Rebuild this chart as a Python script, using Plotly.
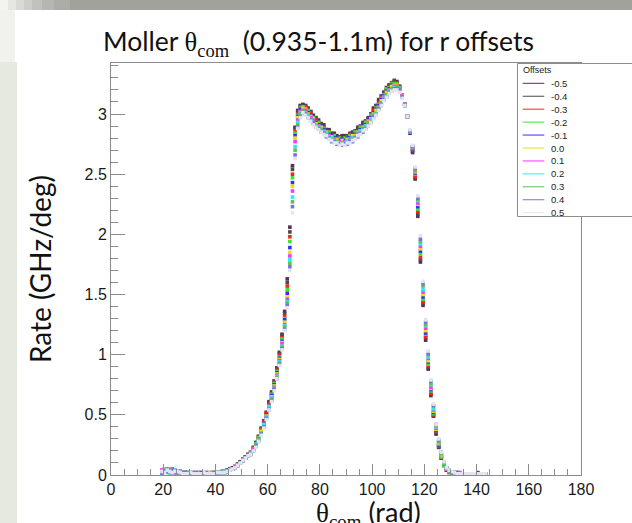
import numpy as np
import plotly.graph_objects as go

# ---------------- data ----------------
offsets = ["-0.5", "-0.4", "-0.3", "-0.2", "-0.1", "0.0", "0.1", "0.2", "0.3", "0.4", "0.5"]
colors = ["#5a2d5a", "#4a4a4a", "#ff2020", "#33e833", "#3333ff", "#f0e000",
          "#ff33ff", "#22eeee", "#59c454", "#7474e0", "#e4e4f0"]
first_bin_center = 19.5  # theta_com (1-degree bins)

rate_m05 = [0.03, 0.04, 0.05, 0.02, 0.03, 0.02, 0.02, 0.03, 0.01, 0.02,
            0.01, 0.02, 0.01, 0.01, 0.02, 0.01, 0.01, 0.01, 0.01, 0.02,
            0.01, 0.02, 0.02, 0.03, 0.03, 0.04, 0.04, 0.06, 0.07, 0.09,
            0.11, 0.13, 0.15, 0.17, 0.19, 0.23, 0.27, 0.32, 0.39, 0.45,
            0.52, 0.61, 0.69, 0.78, 0.89, 1.02, 1.17, 1.36, 1.63, 2.06,
            2.57, 2.89, 3.03, 3.07, 3.08, 3.07, 3.04, 3.02, 2.99, 2.96,
            2.95, 2.92, 2.91, 2.87, 2.87, 2.84, 2.84, 2.82, 2.80, 2.82,
            2.82, 2.81, 2.84, 2.85, 2.86, 2.89, 2.90, 2.93, 2.94, 2.97,
            3.00, 3.05, 3.07, 3.12, 3.15, 3.18, 3.22, 3.24, 3.26, 3.27,
            3.27, 3.23, 3.16, 3.08, 2.98, 2.84, 2.68, 2.46, 2.15, 1.77,
            1.41, 1.12, 0.88, 0.66, 0.49, 0.34, 0.23, 0.14, 0.08, 0.04,
            0.03, 0.02, 0.01, 0.02, 0.01, 0.01, 0.01, 0.01, 0.01, 0.01,
            0.01, 0.01, 0.01, 0.01, 0.01]
rate_m04 = [0.02, 0.05, 0.03, 0.04, 0.02, 0.03, 0.02, 0.01, 0.02, 0.02,
            0.02, 0.01, 0.01, 0.02, 0.01, 0.01, 0.01, 0.02, 0.01, 0.01,
            0.02, 0.01, 0.02, 0.02, 0.03, 0.04, 0.05, 0.05, 0.07, 0.09,
            0.11, 0.13, 0.15, 0.17, 0.19, 0.22, 0.27, 0.32, 0.38, 0.44,
            0.52, 0.60, 0.68, 0.78, 0.88, 1.01, 1.16, 1.34, 1.60, 2.02,
            2.54, 2.88, 3.02, 3.07, 3.07, 3.07, 3.05, 3.02, 2.97, 2.97,
            2.93, 2.92, 2.89, 2.87, 2.86, 2.83, 2.83, 2.80, 2.81, 2.79,
            2.80, 2.82, 2.81, 2.84, 2.85, 2.88, 2.88, 2.92, 2.94, 2.96,
            3.00, 3.02, 3.07, 3.10, 3.13, 3.18, 3.20, 3.24, 3.25, 3.28,
            3.26, 3.23, 3.16, 3.08, 2.98, 2.85, 2.69, 2.47, 2.17, 1.79,
            1.43, 1.14, 0.89, 0.67, 0.49, 0.35, 0.23, 0.14, 0.08, 0.04,
            0.02, 0.02, 0.02, 0.01, 0.01, 0.01, 0.01, 0.01, 0.01, 0.01,
            0.01, 0.02, 0.01, 0.01, 0.01]
rate_m03 = [0.04, 0.03, 0.04, 0.03, 0.05, 0.02, 0.03, 0.02, 0.02, 0.01,
            0.01, 0.01, 0.02, 0.01, 0.01, 0.02, 0.01, 0.01, 0.02, 0.01,
            0.02, 0.02, 0.01, 0.02, 0.03, 0.03, 0.04, 0.05, 0.07, 0.08,
            0.10, 0.12, 0.15, 0.17, 0.19, 0.22, 0.26, 0.32, 0.38, 0.44,
            0.51, 0.59, 0.67, 0.77, 0.87, 1.00, 1.14, 1.32, 1.57, 1.98,
            2.50, 2.86, 3.00, 3.06, 3.06, 3.06, 3.02, 3.01, 2.96, 2.95,
            2.92, 2.90, 2.89, 2.86, 2.85, 2.82, 2.82, 2.80, 2.80, 2.79,
            2.79, 2.81, 2.83, 2.82, 2.85, 2.86, 2.89, 2.90, 2.93, 2.95,
            2.98, 3.03, 3.05, 3.09, 3.14, 3.16, 3.20, 3.22, 3.26, 3.26,
            3.26, 3.22, 3.16, 3.08, 2.98, 2.85, 2.70, 2.48, 2.19, 1.81,
            1.44, 1.15, 0.91, 0.68, 0.50, 0.36, 0.24, 0.15, 0.08, 0.05,
            0.03, 0.02, 0.01, 0.01, 0.02, 0.01, 0.01, 0.01, 0.01, 0.01,
            0.01, 0.01, 0.01, 0.01, 0.01]
rate_m02 = [0.03, 0.04, 0.02, 0.05, 0.03, 0.03, 0.02, 0.02, 0.01, 0.02,
            0.01, 0.02, 0.01, 0.01, 0.01, 0.01, 0.02, 0.01, 0.01, 0.01,
            0.02, 0.02, 0.02, 0.01, 0.02, 0.03, 0.04, 0.05, 0.06, 0.08,
            0.10, 0.12, 0.14, 0.16, 0.19, 0.22, 0.26, 0.31, 0.37, 0.43,
            0.50, 0.58, 0.67, 0.76, 0.86, 0.98, 1.13, 1.30, 1.54, 1.94,
            2.47, 2.84, 2.99, 3.05, 3.06, 3.04, 3.03, 2.98, 2.97, 2.93,
            2.93, 2.89, 2.88, 2.85, 2.85, 2.81, 2.82, 2.79, 2.80, 2.78,
            2.80, 2.79, 2.82, 2.81, 2.85, 2.85, 2.89, 2.89, 2.93, 2.94,
            2.99, 3.01, 3.05, 3.08, 3.13, 3.16, 3.21, 3.22, 3.25, 3.25,
            3.25, 3.22, 3.16, 3.08, 2.98, 2.85, 2.71, 2.50, 2.21, 1.84,
            1.46, 1.17, 0.92, 0.70, 0.51, 0.37, 0.25, 0.15, 0.08, 0.05,
            0.03, 0.02, 0.02, 0.01, 0.01, 0.01, 0.01, 0.01, 0.01, 0.01,
            0.01, 0.01, 0.01, 0.01, 0.01]
rate_m01 = [0.02, 0.03, 0.04, 0.03, 0.02, 0.04, 0.02, 0.02, 0.02, 0.01,
            0.02, 0.01, 0.01, 0.01, 0.01, 0.02, 0.01, 0.01, 0.01, 0.01,
            0.01, 0.02, 0.02, 0.02, 0.03, 0.03, 0.04, 0.05, 0.06, 0.08,
            0.10, 0.12, 0.14, 0.16, 0.18, 0.21, 0.25, 0.30, 0.36, 0.43,
            0.50, 0.58, 0.66, 0.75, 0.85, 0.97, 1.11, 1.29, 1.51, 1.89,
            2.43, 2.82, 2.98, 3.04, 3.05, 3.04, 3.01, 2.99, 2.95, 2.93,
            2.91, 2.90, 2.87, 2.86, 2.83, 2.82, 2.80, 2.80, 2.78, 2.79,
            2.78, 2.80, 2.80, 2.83, 2.83, 2.86, 2.87, 2.90, 2.91, 2.95,
            2.97, 3.01, 3.04, 3.07, 3.12, 3.15, 3.19, 3.21, 3.24, 3.24,
            3.24, 3.21, 3.15, 3.08, 2.98, 2.86, 2.71, 2.51, 2.23, 1.86,
            1.48, 1.18, 0.94, 0.71, 0.52, 0.37, 0.25, 0.16, 0.09, 0.05,
            0.03, 0.02, 0.01, 0.02, 0.01, 0.01, 0.01, 0.01, 0.01, 0.01,
            0.01, 0.01, 0.01, 0.01, 0.01]
rate_p00 = [0.03, 0.05, 0.04, 0.03, 0.04, 0.02, 0.03, 0.02, 0.02, 0.01,
            0.02, 0.01, 0.01, 0.01, 0.01, 0.01, 0.01, 0.01, 0.02, 0.01,
            0.02, 0.02, 0.02, 0.02, 0.03, 0.03, 0.04, 0.05, 0.07, 0.08,
            0.10, 0.12, 0.14, 0.16, 0.18, 0.21, 0.25, 0.30, 0.36, 0.42,
            0.49, 0.57, 0.65, 0.74, 0.84, 0.96, 1.10, 1.27, 1.48, 1.85,
            2.40, 2.80, 2.97, 3.02, 3.05, 3.04, 3.00, 2.98, 2.96, 2.92,
            2.90, 2.89, 2.86, 2.85, 2.82, 2.81, 2.79, 2.79, 2.77, 2.78,
            2.77, 2.79, 2.79, 2.82, 2.82, 2.85, 2.86, 2.89, 2.90, 2.94,
            2.96, 3.00, 3.03, 3.06, 3.11, 3.14, 3.18, 3.20, 3.23, 3.24,
            3.24, 3.21, 3.15, 3.08, 2.98, 2.86, 2.72, 2.52, 2.25, 1.88,
            1.50, 1.20, 0.95, 0.72, 0.53, 0.38, 0.26, 0.16, 0.09, 0.05,
            0.03, 0.02, 0.02, 0.01, 0.01, 0.01, 0.01, 0.01, 0.01, 0.01,
            0.01, 0.01, 0.01, 0.01, 0.01]
rate_p01 = [0.04, 0.03, 0.03, 0.04, 0.02, 0.03, 0.02, 0.03, 0.01, 0.02,
            0.01, 0.01, 0.02, 0.01, 0.01, 0.01, 0.01, 0.02, 0.01, 0.01,
            0.02, 0.01, 0.02, 0.02, 0.02, 0.03, 0.04, 0.05, 0.07, 0.08,
            0.10, 0.12, 0.14, 0.16, 0.18, 0.21, 0.25, 0.30, 0.35, 0.41,
            0.48, 0.56, 0.64, 0.73, 0.83, 0.95, 1.09, 1.25, 1.46, 1.82,
            2.36, 2.77, 2.95, 3.02, 3.03, 3.03, 2.99, 2.97, 2.95, 2.91,
            2.90, 2.87, 2.86, 2.83, 2.82, 2.79, 2.79, 2.77, 2.77, 2.76,
            2.77, 2.77, 2.79, 2.80, 2.81, 2.84, 2.85, 2.88, 2.89, 2.93,
            2.95, 2.99, 3.01, 3.06, 3.09, 3.14, 3.16, 3.20, 3.21, 3.23,
            3.23, 3.21, 3.15, 3.08, 2.98, 2.86, 2.72, 2.53, 2.26, 1.90,
            1.52, 1.22, 0.97, 0.73, 0.54, 0.39, 0.27, 0.17, 0.09, 0.05,
            0.03, 0.02, 0.01, 0.01, 0.02, 0.01, 0.01, 0.01, 0.01, 0.01,
            0.01, 0.01, 0.01, 0.01, 0.01]
rate_p02 = [0.02, 0.04, 0.03, 0.02, 0.03, 0.04, 0.02, 0.02, 0.02, 0.01,
            0.01, 0.02, 0.01, 0.01, 0.01, 0.01, 0.01, 0.01, 0.01, 0.02,
            0.01, 0.02, 0.02, 0.02, 0.03, 0.03, 0.04, 0.05, 0.06, 0.08,
            0.10, 0.12, 0.14, 0.16, 0.18, 0.20, 0.24, 0.29, 0.35, 0.41,
            0.48, 0.56, 0.64, 0.72, 0.82, 0.94, 1.07, 1.24, 1.44, 1.79,
            2.31, 2.73, 2.93, 3.01, 3.02, 3.01, 2.99, 2.96, 2.93, 2.91,
            2.89, 2.88, 2.85, 2.84, 2.81, 2.80, 2.78, 2.77, 2.76, 2.76,
            2.76, 2.78, 2.78, 2.80, 2.81, 2.83, 2.86, 2.87, 2.90, 2.92,
            2.95, 2.98, 3.01, 3.05, 3.08, 3.13, 3.15, 3.19, 3.20, 3.22,
            3.22, 3.21, 3.14, 3.07, 2.98, 2.86, 2.73, 2.54, 2.28, 1.92,
            1.54, 1.24, 0.98, 0.75, 0.55, 0.40, 0.27, 0.17, 0.10, 0.06,
            0.03, 0.02, 0.02, 0.01, 0.01, 0.01, 0.01, 0.01, 0.01, 0.01,
            0.01, 0.01, 0.01, 0.01, 0.01]
rate_p03 = [0.03, 0.03, 0.05, 0.03, 0.03, 0.02, 0.02, 0.02, 0.01, 0.02,
            0.02, 0.01, 0.01, 0.01, 0.02, 0.01, 0.01, 0.01, 0.01, 0.01,
            0.02, 0.02, 0.01, 0.02, 0.02, 0.03, 0.04, 0.05, 0.06, 0.08,
            0.10, 0.12, 0.14, 0.16, 0.17, 0.20, 0.24, 0.29, 0.34, 0.40,
            0.47, 0.55, 0.63, 0.72, 0.81, 0.93, 1.06, 1.23, 1.43, 1.76,
            2.27, 2.70, 2.91, 3.00, 3.02, 3.00, 2.98, 2.96, 2.92, 2.90,
            2.88, 2.87, 2.84, 2.83, 2.80, 2.79, 2.77, 2.77, 2.75, 2.76,
            2.76, 2.76, 2.78, 2.79, 2.80, 2.83, 2.84, 2.87, 2.88, 2.92,
            2.94, 2.98, 3.00, 3.05, 3.08, 3.12, 3.16, 3.18, 3.21, 3.21,
            3.22, 3.21, 3.14, 3.07, 2.98, 2.86, 2.73, 2.54, 2.29, 1.94,
            1.57, 1.25, 1.00, 0.76, 0.57, 0.41, 0.28, 0.18, 0.10, 0.06,
            0.03, 0.02, 0.01, 0.01, 0.01, 0.01, 0.01, 0.01, 0.01, 0.01,
            0.01, 0.01, 0.01, 0.01, 0.01]
rate_p04 = [0.02, 0.04, 0.03, 0.03, 0.04, 0.02, 0.03, 0.01, 0.02, 0.02,
            0.01, 0.01, 0.01, 0.02, 0.01, 0.01, 0.01, 0.01, 0.01, 0.01,
            0.02, 0.01, 0.02, 0.02, 0.02, 0.03, 0.04, 0.05, 0.06, 0.08,
            0.10, 0.12, 0.14, 0.16, 0.17, 0.20, 0.24, 0.28, 0.34, 0.40,
            0.47, 0.54, 0.62, 0.71, 0.80, 0.92, 1.05, 1.21, 1.41, 1.73,
            2.23, 2.66, 2.89, 2.98, 3.01, 3.00, 2.97, 2.95, 2.93, 2.89,
            2.88, 2.85, 2.84, 2.81, 2.80, 2.77, 2.77, 2.75, 2.75, 2.74,
            2.75, 2.75, 2.77, 2.77, 2.80, 2.81, 2.84, 2.85, 2.88, 2.90,
            2.93, 2.97, 2.99, 3.04, 3.07, 3.12, 3.14, 3.18, 3.19, 3.21,
            3.21, 3.20, 3.14, 3.07, 2.98, 2.86, 2.73, 2.55, 2.30, 1.96,
            1.59, 1.27, 1.01, 0.78, 0.58, 0.42, 0.29, 0.19, 0.11, 0.06,
            0.04, 0.02, 0.02, 0.01, 0.01, 0.01, 0.01, 0.01, 0.01, 0.01,
            0.01, 0.01, 0.01, 0.01, 0.01]
rate_p05 = [0.03, 0.02, 0.04, 0.03, 0.02, 0.03, 0.03, 0.02, 0.01, 0.01,
            0.01, 0.02, 0.01, 0.01, 0.01, 0.01, 0.02, 0.01, 0.01, 0.01,
            0.01, 0.02, 0.02, 0.02, 0.02, 0.03, 0.04, 0.05, 0.06, 0.08,
            0.10, 0.12, 0.14, 0.16, 0.17, 0.20, 0.23, 0.28, 0.33, 0.39,
            0.46, 0.54, 0.61, 0.70, 0.80, 0.91, 1.04, 1.20, 1.39, 1.70,
            2.18, 2.63, 2.88, 2.97, 3.01, 2.99, 2.97, 2.94, 2.91, 2.89,
            2.87, 2.85, 2.83, 2.82, 2.79, 2.78, 2.76, 2.76, 2.74, 2.75,
            2.74, 2.76, 2.76, 2.78, 2.79, 2.82, 2.83, 2.86, 2.87, 2.90,
            2.93, 2.96, 2.99, 3.03, 3.07, 3.11, 3.14, 3.17, 3.19, 3.20,
            3.20, 3.18, 3.13, 3.07, 2.98, 2.87, 2.74, 2.56, 2.32, 1.99,
            1.61, 1.29, 1.03, 0.79, 0.59, 0.42, 0.30, 0.19, 0.11, 0.06,
            0.04, 0.03, 0.02, 0.01, 0.01, 0.01, 0.01, 0.01, 0.01, 0.01,
            0.01, 0.01, 0.01, 0.01, 0.01]

series = [rate_m05, rate_m04, rate_m03, rate_m02, rate_m01, rate_p00,
          rate_p01, rate_p02, rate_p03, rate_p04, rate_p05]

x_ticks = [0, 20, 40, 60, 80, 100, 120, 140, 160, 180]

# ---------------- layout geometry ----------------
W, H = 632, 523
L, R, T, B = 111, 51, 63, 48
PW, PH = W - L - R, H - T - B


def fx(px):
    return (px - L) / PW


def fy(py):
    return (H - B - py) / PH


fig = go.Figure()
for name, vals, col in zip(offsets, series, colors):
    xs = first_bin_center + np.arange(len(vals))
    fig.add_trace(go.Scatter(
        x=xs, y=vals, mode="markers", name=name, showlegend=False,
        marker=dict(symbol="square", size=3.6, color=col, line=dict(width=0)),
    ))

shapes = []
# slide background: top gray band (gradient steps)
band = [(0, 8, "#f3f3f0"), (8, 16, "#e6e6e2"), (16, 24, "#d9d9d5"), (24, 32, "#cdcdc9"),
        (32, 42, "#c1c1bd"), (42, 54, "#b5b5b1"), (54, 70, "#acaca8"), (70, 700, "#a2a29d")]
for a, b_, c in band:
    shapes.append(dict(type="rect", xref="paper", yref="paper", x0=fx(a), x1=fx(b_),
                       y0=fy(10), y1=fy(-2), fillcolor=c, line=dict(width=0), layer="below"))
shapes.append(dict(type="rect", xref="paper", yref="paper", x0=fx(-2), x1=fx(15),
                   y0=fy(62), y1=fy(10), fillcolor="#f1f1ed", line=dict(width=0), layer="below"))
shapes.append(dict(type="rect", xref="paper", yref="paper", x0=fx(-2), x1=fx(17),
                   y0=fy(530), y1=fy(62), fillcolor="#e6e9de", line=dict(width=0), layer="below"))

# ROOT-style legend box
LX0, LY0, LY1 = 517.5, 63.5, 216.5
shapes.append(dict(type="rect", xref="paper", yref="paper", x0=fx(LX0), x1=fx(700),
                   y0=fy(LY1), y1=fy(LY0), fillcolor="white",
                   line=dict(color="#8c8c8c", width=1), layer="above"))
annotations = [dict(x=fx(521), y=fy(69.5), xref="paper", yref="paper", text="Offsets",
                    showarrow=False, xanchor="left", yanchor="middle",
                    font=dict(family="Liberation Sans", size=9, color="#222"))]
for k, (name, col) in enumerate(zip(offsets, colors)):
    yy = 83.3 + 12.94 * k
    shapes.append(dict(type="line", xref="paper", yref="paper", x0=fx(522.7), x1=fx(544.3),
                       y0=fy(yy), y1=fy(yy), line=dict(color=col, width=1), layer="above"))
    annotations.append(dict(x=fx(549), y=fy(yy), xref="paper", yref="paper", text=name,
                            showarrow=False, xanchor="left", yanchor="middle",
                            font=dict(family="Liberation Sans", size=9.5, color="#222")))

SERIF = "font-family:'Liberation Serif'"
annotations.append(dict(
    x=fx(318), y=fy(43), xref="paper", yref="paper", showarrow=False,
    xanchor="center", yanchor="middle",
    text=f"Moller <span style=\"{SERIF}\">θ<sub>com</sub></span>  (0.935-1.1m) for r offsets",
    font=dict(family="Lato", size=26.5, color="#111")))
annotations.append(dict(
    x=fx(40), y=fy(269), xref="paper", yref="paper", showarrow=False,
    xanchor="center", yanchor="middle", textangle=-90,
    text="Rate (GHz/deg)", font=dict(family="Lato", size=28, color="#111")))
annotations.append(dict(
    x=fx(368), y=fy(513), xref="paper", yref="paper", showarrow=False,
    xanchor="center", yanchor="middle",
    text=f"<span style=\"{SERIF}\">θ<sub>com</sub></span> (rad)",
    font=dict(family="Lato", size=27, color="#111")))

AX = "#8c8c8c"
fig.update_layout(
    width=W, height=H, margin=dict(l=L, r=R, t=T, b=B, pad=0),
    paper_bgcolor="white", plot_bgcolor="white",
    shapes=shapes, annotations=annotations, showlegend=False,
    font=dict(family="Liberation Sans"),
    xaxis=dict(range=[0, 180], tickvals=x_ticks, ticks="inside", ticklen=11, tickwidth=1,
               tickcolor=AX, showline=True, linecolor=AX, linewidth=1, mirror=True,
               showgrid=False, zeroline=False,
               tickfont=dict(family="Liberation Sans", size=16, color="#1a1a1a"),
               minor=dict(dtick=5, tick0=0, ticks="inside", ticklen=6, tickcolor=AX, showgrid=False)),
    yaxis=dict(range=[0, 3.424], dtick=0.5, tick0=0, ticks="inside", ticklen=14, tickwidth=1,
               tickcolor=AX, showline=True, linecolor=AX, linewidth=1, mirror=True,
               showgrid=False, zeroline=False,
               tickfont=dict(family="Liberation Sans", size=16, color="#1a1a1a"),
               minor=dict(dtick=0.1, tick0=0, ticks="inside", ticklen=7, tickcolor=AX, showgrid=False)),
)

fig.write_html("out.html")
